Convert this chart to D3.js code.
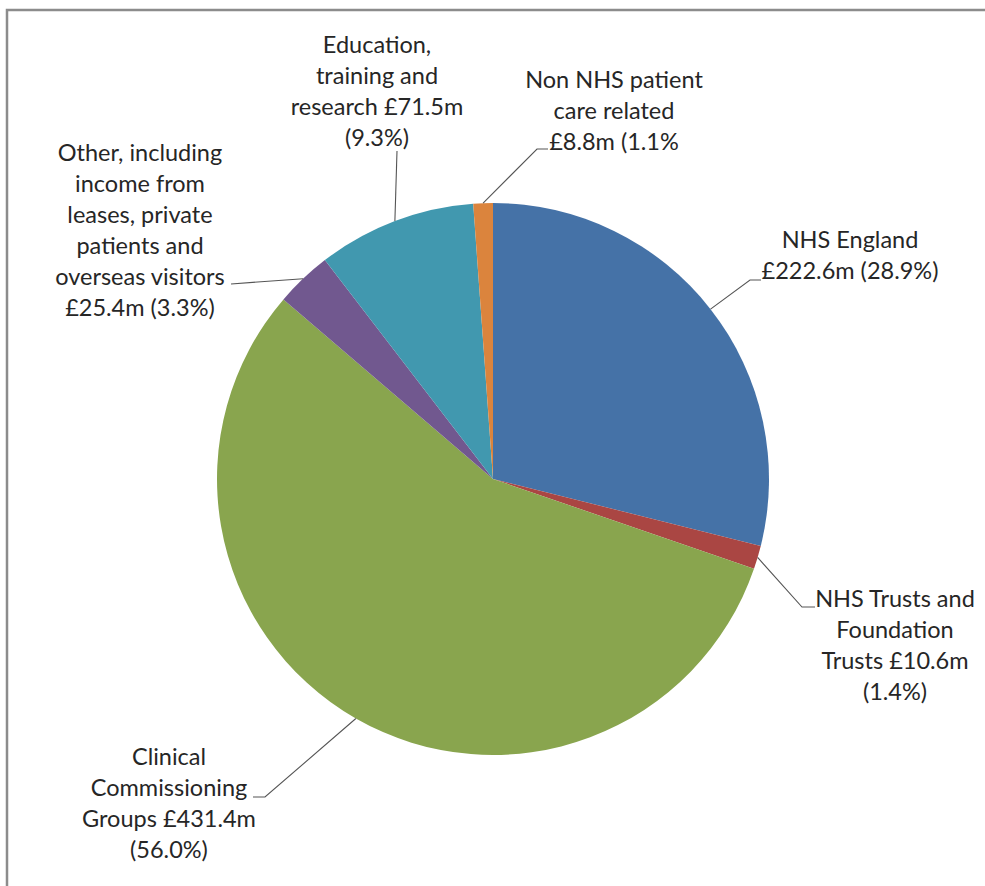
<!DOCTYPE html>
<html>
<head>
<meta charset="utf-8">
<script src="https://cdn.jsdelivr.net/npm/d3@7"></script>
<style>
  body { margin: 0; background: #fff; }
  svg { display: block; }
</style>
</head>
<body>
<script>
// data (£m), clockwise from 12 o'clock
const categories = [
  'NHS England',
  'NHS Trusts and Foundation Trusts',
  'Clinical Commissioning Groups',
  'Other, including income from leases, private patients and overseas visitors',
  'Education, training and research',
  'Non NHS patient care related'
];
const values = [222.6, 10.6, 431.4, 25.4, 71.5, 8.8];
const percents = ['28.9%', '1.4%', '56.0%', '3.3%', '9.3%', '1.1%'];
const labelLines = [
  ['NHS England', '£222.6m (28.9%)'],
  ['NHS Trusts and', 'Foundation', 'Trusts £10.6m', '(1.4%)'],
  ['Clinical', 'Commissioning', 'Groups £431.4m', '(56.0%)'],
  ['Other, including', 'income from', 'leases, private', 'patients and', 'overseas visitors', '£25.4m (3.3%)'],
  ['Education,', 'training and', 'research £71.5m', '(9.3%)'],
  ['Non NHS patient', 'care related', '£8.8m (1.1%']
];
const colors = ['#4572A7', '#AA4643', '#89A54E', '#71588F', '#4198AF', '#DB843D'];

// layout
const width = 985, height = 886;
const cx = 493, cy = 479, radius = 276;
const lineH = 31;
// text centre x, first baseline, and leader path points after the pie edge
const labelLayout = [
  { x: 850, y: 248, leader: [[750, 280], [761, 280]] },
  { x: 895, y: 607, leader: [[802, 607], [815, 607]] },
  { x: 169, y: 765, leader: [[265, 797], [253, 797]] },
  { x: 140, y: 161, leader: [[231, 284]] },
  { x: 377, y: 53, leader: [[397, 151]] },
  { x: 614, y: 88, leader: [[537, 149], [548, 149]] }
];

const svg = d3.select('body').append('svg').attr('width', width).attr('height', height);

// chart frame
svg.append('rect')
  .attr('x', 7).attr('y', 10)
  .attr('width', width + 20).attr('height', height + 20)
  .attr('fill', 'none')
  .attr('stroke', '#8c8c8c')
  .attr('stroke-width', 2.5);

const pie = d3.pie().sort(null).value((d) => d);
const arcs = pie(values);
const arc = d3.arc().innerRadius(0).outerRadius(radius);

const g = svg.append('g').attr('transform', `translate(${cx},${cy})`);

g.selectAll('path.slice')
  .data(arcs)
  .enter()
  .append('path')
  .attr('class', 'slice')
  .attr('d', arc)
  .attr('fill', (d, i) => colors[i]);

// leader lines: start at mid-angle on the rim
const rimPoint = (d) => {
  const a = (d.startAngle + d.endAngle) / 2;
  return [cx + radius * Math.sin(a), cy - radius * Math.cos(a)];
};

svg.append('g')
  .selectAll('path')
  .data(arcs)
  .enter()
  .append('path')
  .attr('d', (d, i) => d3.line()([rimPoint(d), ...labelLayout[i].leader]))
  .attr('fill', 'none')
  .attr('stroke', '#555')
  .attr('stroke-width', 1.1);

// labels
const labels = svg.append('g')
  .selectAll('text')
  .data(arcs)
  .enter()
  .append('text')
  .attr('font-family', 'Lato, "Open Sans", sans-serif')
  .attr('font-size', '23.5px')
  .attr('fill', '#262626')
  .attr('text-anchor', 'middle');

labels.each(function (d, i) {
  const t = d3.select(this);
  labelLines[i].forEach((ln, j) => {
    t.append('tspan')
      .attr('x', labelLayout[i].x)
      .attr('y', labelLayout[i].y + j * lineH)
      .text(ln);
  });
});
</script>
</body>
</html>
